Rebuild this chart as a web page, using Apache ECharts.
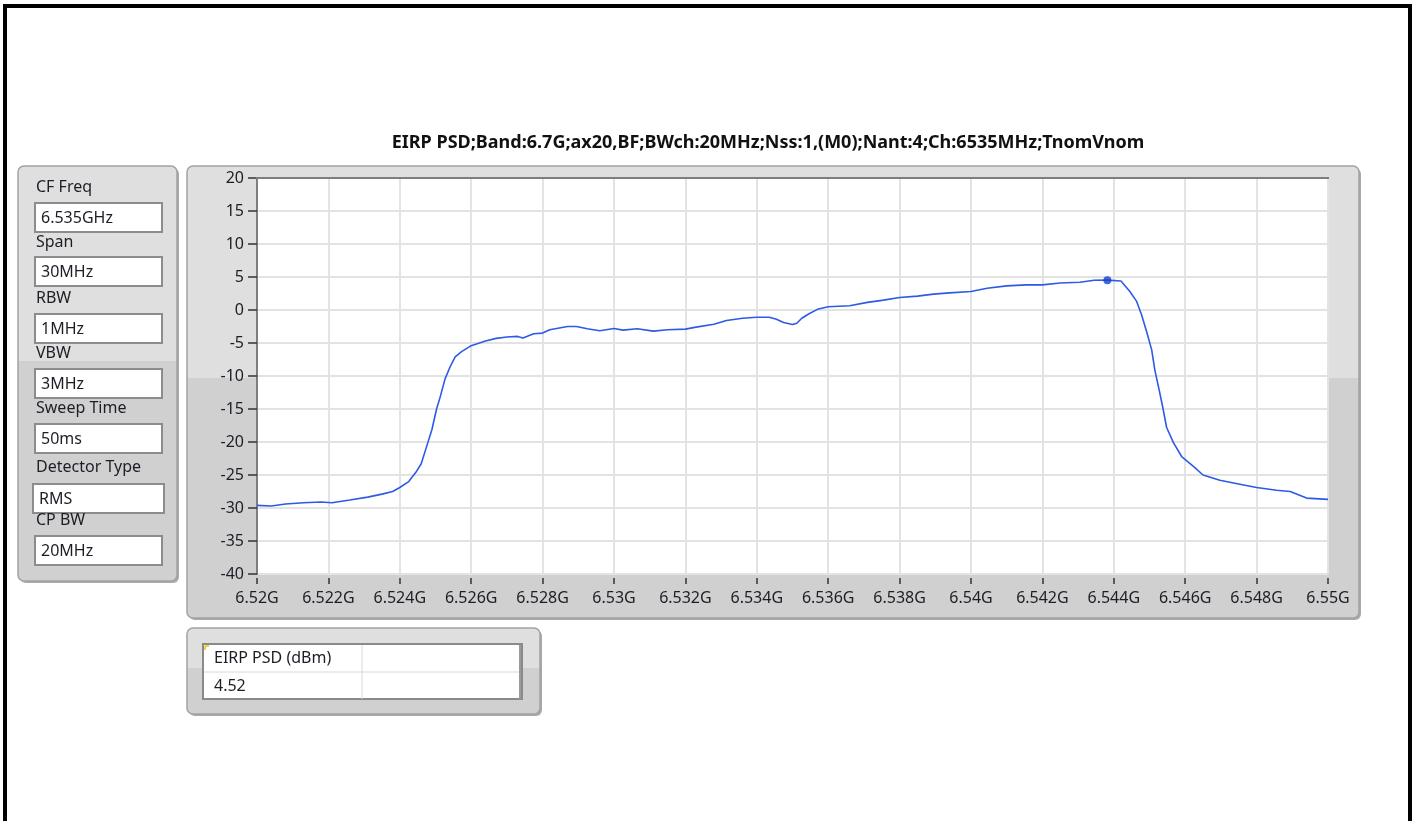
<!DOCTYPE html>
<html><head><meta charset="utf-8">
<script src="https://cdn.jsdelivr.net/npm/echarts@6/dist/echarts.min.js"></script>
<style>html,body{margin:0;padding:0;background:#fff;}#c{width:1418px;height:821px;}</style>
</head><body><div id="c"></div>
<script>
// ---- data ----
const titleText = 'EIRP PSD;Band:6.7G;ax20,BF;BWch:20MHz;Nss:1,(M0);Nant:4;Ch:6535MHz;TnomVnom';
const freqMHz = [6520.0,6520.4,6520.8,6521.3,6521.8,6522.1,6522.6,6523.1,6523.5,6523.8,6524.0,6524.25,6524.45,6524.6,6524.75,6524.9,6525.03,6525.13,6525.27,6525.41,6525.55,6525.73,6526.0,6526.4,6526.7,6527.0,6527.3,6527.45,6527.75,6528.0,6528.2,6528.7,6528.95,6529.25,6529.6,6530.0,6530.25,6530.65,6531.1,6531.5,6532.0,6532.3,6532.8,6533.15,6533.6,6534.0,6534.35,6534.55,6534.75,6535.0,6535.12,6535.26,6535.45,6535.7,6536.0,6536.6,6537.1,6537.55,6538.0,6538.5,6538.95,6539.4,6540.0,6540.45,6541.0,6541.55,6542.0,6542.5,6543.05,6543.45,6543.82,6544.2,6544.45,6544.64,6544.78,6544.92,6545.06,6545.15,6545.27,6545.37,6545.48,6545.67,6545.9,6546.23,6546.5,6546.97,6547.53,6548.0,6548.56,6548.94,6549.4,6550.0];
const psdDbm = [-29.6,-29.7,-29.4,-29.2,-29.1,-29.2,-28.8,-28.35,-27.9,-27.5,-26.9,-26.0,-24.6,-23.3,-20.7,-18.1,-15.0,-13.2,-10.4,-8.6,-7.1,-6.3,-5.4,-4.7,-4.3,-4.1,-4.0,-4.25,-3.6,-3.5,-3.0,-2.5,-2.5,-2.85,-3.15,-2.8,-3.05,-2.85,-3.2,-3.0,-2.9,-2.6,-2.15,-1.6,-1.25,-1.1,-1.1,-1.4,-1.9,-2.2,-2.0,-1.25,-0.6,0.1,0.5,0.65,1.15,1.5,1.9,2.1,2.4,2.6,2.8,3.3,3.65,3.8,3.8,4.1,4.2,4.5,4.52,4.4,2.8,1.3,-0.75,-3.3,-6.0,-9.1,-12.1,-14.7,-17.8,-20.1,-22.2,-23.7,-25.0,-25.8,-26.4,-26.9,-27.3,-27.5,-28.5,-28.7];
const markerFreqMHz = [6543.82];
const markerPsd = [4.52];
const xTickLabels = ['6.52G','6.522G','6.524G','6.526G','6.528G','6.53G','6.532G','6.534G','6.536G','6.538G','6.54G','6.542G','6.544G','6.546G','6.548G','6.55G'];
const paramLabels = ['CF Freq','Span','RBW','VBW','Sweep Time','Detector Type','CP BW'];
const paramValues = ['6.535GHz','30MHz','1MHz','3MHz','50ms','RMS','20MHz'];
const tableHeader = ['EIRP PSD (dBm)',''];
const tableRow = ['4.52',''];

// ---- layout / drawing ----
const FONT = "'Noto Sans', 'Open Sans', sans-serif";
const TXT = '#1d1d26';
function panelFill(){
  return new echarts.graphic.LinearGradient(0,0,0,1,[
    {offset:0,color:'#dfdfdf'},{offset:0.47,color:'#dfdfdf'},
    {offset:0.47,color:'#d0d0d0'},{offset:1,color:'#d0d0d0'}]);
}
function panel(x,y,w,h){
  return [
    {type:'rect',z:-20,silent:true,shape:{x:x+2,y:y+2,width:w,height:h,r:6},style:{fill:'#a9a9a9'}},
    {type:'rect',z:-19,silent:true,shape:{x:x,y:y,width:w,height:h,r:6},style:{fill:panelFill(),stroke:'#a3a3a3',lineWidth:1.5}}
  ];
}
const g = [];
// outer black frame
g.push({type:'rect',z:-30,silent:true,shape:{x:5,y:6,width:1405,height:900},style:{fill:'#fff',stroke:'#000',lineWidth:4}});
// title
g.push({type:'text',z:5,x:768,y:143,style:{text:titleText,fill:'#111',font:"bold 18px "+FONT,align:'center',verticalAlign:'middle'}});
// left panel
g.push(...panel(18,166,159,415));
const labelY=[187,242,298,353,408,467,520];
const boxY=[203,257,314,369,424,484,536];
for(let i=0;i<paramLabels.length;i++){
  const bx = i===5?33:35, bw = i===5?131:127;
  g.push({type:'text',z:5,x:36,y:labelY[i],style:{text:paramLabels[i],fill:TXT,font:"16px "+FONT,verticalAlign:'middle'}});
  g.push({type:'rect',z:4,silent:true,shape:{x:bx,y:boxY[i],width:bw,height:29},style:{fill:'#fff',stroke:'#8c8c8c',lineWidth:2}});
  g.push({type:'text',z:5,x:bx+6,y:boxY[i]+15,style:{text:paramValues[i],fill:TXT,font:"16px "+FONT,verticalAlign:'middle'}});
}
// chart panel
g.push(...panel(187,166,1172,452));
// plot frame (top sunken edge)
g.push({type:'line',z:10,silent:true,shape:{x1:256,y1:178,x2:1329,y2:178},style:{stroke:'#7e7e7e',lineWidth:2}});
// table panel
g.push(...panel(187,628,353,86));
g.push({type:'rect',z:4,silent:true,shape:{x:203,y:644,width:319,height:55},style:{fill:'#fff',stroke:'#8a8a8a',lineWidth:2}});
g.push({type:'line',z:5,silent:true,shape:{x1:204,y1:672,x2:520,y2:672},style:{stroke:'#d8d8d8',lineWidth:1}});
g.push({type:'line',z:5,silent:true,shape:{x1:362,y1:645,x2:362,y2:699},style:{stroke:'#d8d8d8',lineWidth:1}});
g.push({type:'line',z:5,silent:true,shape:{x1:520,y1:645,x2:520,y2:699},style:{stroke:'#9a9a9a',lineWidth:2}});
g.push({type:'line',z:6,silent:true,shape:{x1:205,y1:646,x2:205,y2:650},style:{stroke:'#f0c000',lineWidth:1.5}});
g.push({type:'line',z:6,silent:true,shape:{x1:205,y1:646,x2:209,y2:646},style:{stroke:'#f0c000',lineWidth:1.5}});
const colX=[214,370];
for(let c=0;c<2;c++){
  g.push({type:'text',z:6,x:colX[c],y:658,style:{text:tableHeader[c],fill:TXT,font:"16px "+FONT,verticalAlign:'middle'}});
  g.push({type:'text',z:6,x:colX[c],y:686,style:{text:tableRow[c],fill:TXT,font:"16px "+FONT,verticalAlign:'middle'}});
}

const chart = echarts.init(document.getElementById('c'),null,{renderer:'canvas'});
chart.setOption({
  animation:false,
  backgroundColor:'#fff',
  graphic:g,
  grid:{left:257,top:178,width:1071,height:396,show:true,backgroundColor:'#fff',borderWidth:0,containLabel:false},
  xAxis:{type:'value',min:6520,max:6550,interval:2,offset:4,position:'bottom',
    axisLine:{show:false,onZero:false},
    axisTick:{show:true,length:6,lineStyle:{color:'#333',width:1.5}},
    axisLabel:{fontSize:16,fontFamily:FONT,color:TXT,margin:12,
      formatter:function(v){return xTickLabels[Math.round((v-6520)/2)];}},
    splitLine:{show:true,lineStyle:{color:'#e3e3e3',width:2}}},
  yAxis:{type:'value',min:-40,max:20,interval:5,
    axisLine:{show:true,onZero:false,lineStyle:{color:'#7e7e7e',width:2}},
    axisTick:{show:true,length:9,lineStyle:{color:'#333',width:1.5}},
    axisLabel:{fontSize:16,fontFamily:FONT,color:TXT,margin:13},
    splitLine:{show:true,lineStyle:{color:'#e3e3e3',width:2}}},
  series:[
    {type:'line',data:freqMHz.map((f,i)=>[f,psdDbm[i]]),showSymbol:false,symbol:'none',
     lineStyle:{color:'#2d5ae6',width:1.6},z:3},
    {type:'scatter',data:markerFreqMHz.map((f,i)=>[f,markerPsd[i]]),symbol:'circle',symbolSize:8,
     itemStyle:{color:'#1440d0'},z:4}
  ]
});
</script></body></html>
